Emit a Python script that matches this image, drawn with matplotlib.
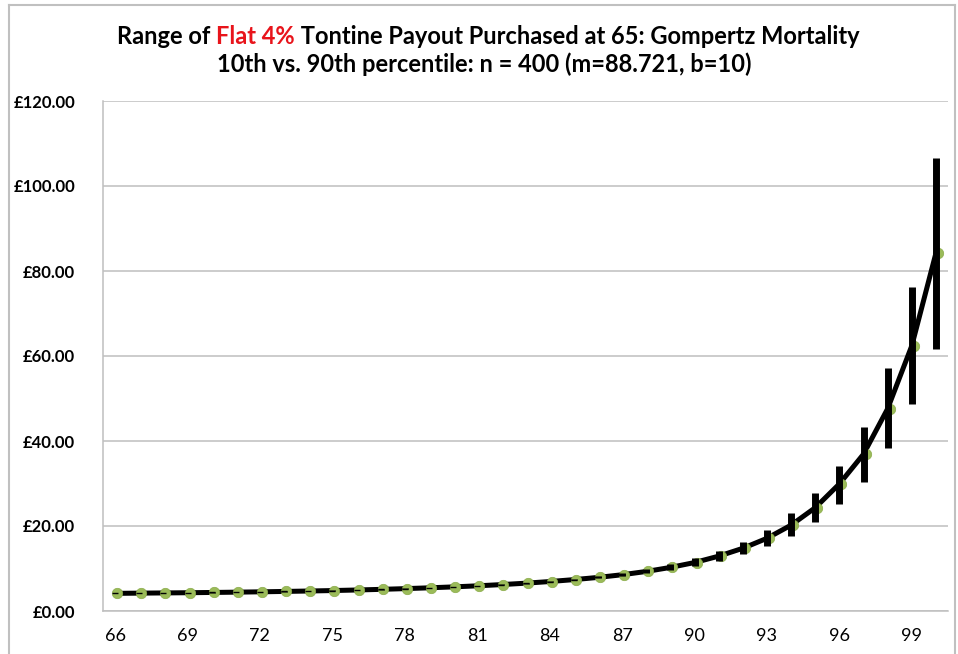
import numpy as np
import matplotlib
matplotlib.use("Agg")
import matplotlib.pyplot as plt
import matplotlib.transforms as mtransforms
from matplotlib.lines import Line2D

# ages on the category axis
ages = list(range(66, 101))

# median payout (green close markers / black line)
payout = [4.15, 4.20, 4.25, 4.30, 4.36, 4.43, 4.51, 4.60, 4.70, 4.81,
          4.94, 5.09, 5.26, 5.45, 5.67, 5.92, 6.21, 6.54, 6.93, 7.38,
          7.90, 8.53, 9.30, 10.25, 11.40, 12.90, 14.75, 17.10, 20.20, 24.30,
          29.90, 36.90, 47.60, 62.40, 84.20]

# 90th percentile
high = [4.16, 4.21, 4.26, 4.31, 4.38, 4.45, 4.53, 4.62, 4.73, 4.84,
        4.98, 5.13, 5.31, 5.51, 5.74, 6.00, 6.32, 6.68, 7.10, 7.60,
        8.15, 8.85, 9.80, 11.00, 12.40, 14.20, 16.30, 19.10, 23.00, 27.70,
        34.10, 43.40, 57.10, 76.30, 106.70]

# 10th percentile
low = [4.14, 4.19, 4.24, 4.29, 4.34, 4.41, 4.49, 4.58, 4.67, 4.78,
       4.90, 5.05, 5.21, 5.39, 5.60, 5.84, 6.10, 6.42, 6.80, 7.20,
       7.65, 8.20, 8.90, 9.70, 10.70, 11.80, 13.40, 15.30, 17.60, 20.90,
       25.10, 30.30, 38.30, 48.60, 61.60]

yticks = [0, 20, 40, 60, 80, 100, 120]
ytick_labels = ["£0.00", "£20.00", "£40.00", "£60.00", "£80.00", "£100.00", "£120.00"]
xtick_ages = list(range(66, 100, 3))

plt.rcParams['font.family'] = ['Lato', 'DejaVu Sans']

W, H = 958, 654
fig = plt.figure(figsize=(W / 100, H / 100), dpi=100)

# outer chart frame
fig.add_artist(Line2D([9 / W, 9 / W], [0, 1 - 5 / H], color="#c0c0c0", lw=1.5))
fig.add_artist(Line2D([9 / W, 955 / W], [1 - 5 / H, 1 - 5 / H], color="#c0c0c0", lw=1.5))
fig.add_artist(Line2D([955 / W, 955 / W], [0, 1 - 5 / H], color="#c0c0c0", lw=1.5))

# plot area: x 103..948, y 101..611 (pixels)
ax = fig.add_axes([103 / W, 1 - 611 / H, (948 - 103) / W, (611 - 101) / H])

x = np.arange(len(ages))
grey = "#bfbfbf"

ax.plot(x, payout, color="black", lw=3.6, zorder=2, solid_capstyle="butt")

shift = mtransforms.ScaledTranslation(2 / 100, 0, fig.dpi_scale_trans)
ax.plot(x, payout, ls="none", marker="o", ms=7.5, mfc="#9bbb59", mec="#8aab4a",
        mew=0.5, zorder=3, transform=ax.transData + shift)
ax.plot(x, payout, ls="none", marker="_", ms=4, mec="black", mew=1.0, zorder=4)

ax.vlines(x, low, high, color="black", lw=5, zorder=5)

ax.set_xlim(-0.5, len(ages) - 0.5)
ax.set_ylim(0, 120)
ax.set_yticks(yticks)
ax.set_yticklabels(ytick_labels, fontsize=12, fontweight="bold")
ax.set_xticks([ages.index(a) for a in xtick_ages])
ax.set_xticklabels([str(a) for a in xtick_ages], fontsize=13)
ax.tick_params(axis="both", length=0)
ax.tick_params(axis="y", pad=20)
ax.tick_params(axis="x", pad=12)

ax.grid(axis="y", color=grey, lw=1.1)
ax.set_axisbelow(True)
for side in ["top", "right"]:
    ax.spines[side].set_visible(False)
ax.spines["left"].set_color(grey)
ax.spines["bottom"].set_color(grey)
ax.spines["left"].set_linewidth(1.1)
ax.spines["bottom"].set_linewidth(1.1)

# title: first line with red fragment
tsize = 17
parts = [("Range of ", "black"), ("Flat 4%", "#e8141b"),
         (" Tontine Payout Purchased at 65: Gompertz Mortality", "black")]
fig.canvas.draw()
renderer = fig.canvas.get_renderer()
texts = []
widths = []
for s, c in parts:
    t = fig.text(0, 1 - 37 / H, s, color=c, fontsize=tsize, fontweight="bold",
                 va="center", ha="left")
    texts.append(t)
    widths.append(t.get_window_extent(renderer).width)
total = sum(widths)
start = 488 - total / 2
for t, w in zip(texts, widths):
    t.set_x(start / W)
    start += w

fig.text(484 / W, 1 - 64 / H, "10th vs. 90th percentile: n = 400 (m=88.721, b=10)",
         fontsize=tsize, fontweight="bold", ha="center", va="center")

fig.savefig("out.png", dpi=100)
